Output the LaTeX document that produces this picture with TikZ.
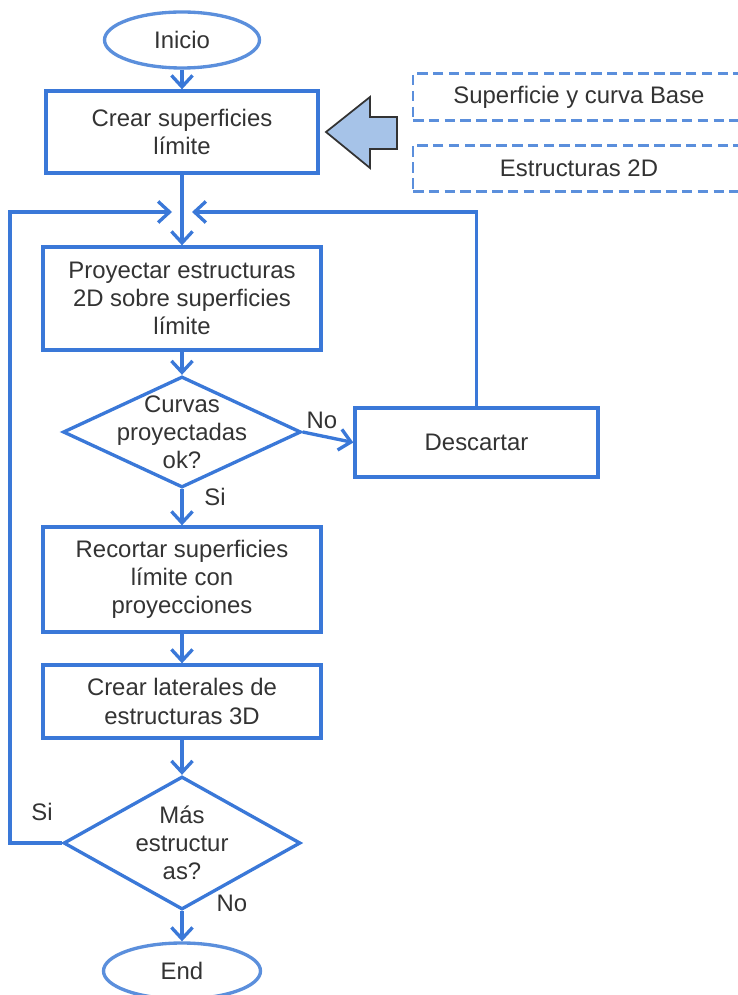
\documentclass[tikz,border=0pt]{standalone}
\usepackage{fontspec}
\setmainfont{Liberation Sans}
\usepackage{tikz}
\usetikzlibrary{arrows.meta,shapes.geometric}
\usepackage{xcolor}
\definecolor{flowblue}{HTML}{3A78D8}
\definecolor{lightblue}{HTML}{5B8FDC}
\definecolor{arrowfill}{HTML}{A6C3E8}
\definecolor{txtgray}{HTML}{333333}

\begin{document}
\begin{tikzpicture}[
    every node/.style = {
      align=center,
      text=txtgray,
      font=\fontsize{13.6}{16}\selectfont
    },
    process/.style = {
      shape=rectangle,
      draw=flowblue,
      line width=1.9pt,
      minimum width=5.56cm
    },
    terminal/.style = {
      shape=ellipse,
      draw=lightblue,
      line width=1.9pt,
      minimum width=3.1cm,
      minimum height=1.12cm,
      inner sep=0pt
    },
    decision/.style = {
      shape=diamond,
      draw=flowblue,
      line width=1.9pt,
      inner sep=0pt
    },
    source/.style = {
      shape=rectangle,
      draw=lightblue,
      line width=1.6pt,
      dash pattern=on 6pt off 3pt,
      minimum width=6.64cm,
      minimum height=0.93cm
    },
    arrow/.style = {
      draw=flowblue,
      line width=1.9pt,
      -{Straight Barb[length=6.5pt,width=12pt]}
    }
  ]

    \useasboundingbox (0,0) rectangle (14.76,-19.9);
    \clip (0,0) rectangle (14.76,-19.9);

    % Start and first step
    \node[terminal] (inicio) at (3.64, -0.80) {Inicio};
    \node[process, minimum width=5.44cm, minimum height=1.64cm] (crear) at (3.64, -2.64) {Crear superficies\\límite};

    % Inputs on the right
    \node[source] (superficie) at (11.58, -1.94) {Superficie y curva Base};
    \node[source] (estructuras) at (11.58, -3.37) {Estructuras 2D};
    \draw[fill=arrowfill, draw=black!80, line width=1pt, line join=miter]
      (6.52,-2.64) -- (7.40,-1.94) -- (7.40,-2.34) -- (7.94,-2.34)
      -- (7.94,-2.98) -- (7.40,-2.98) -- (7.40,-3.36) -- cycle;

    % Loop entry
    \coordinate (join) at (3.64, -4.24);

    % Main column
    \node[process, minimum height=2.06cm] (proyectar) at (3.64, -5.97) {Proyectar estructuras\\2D sobre superficies\\límite};
    \node[decision, minimum width=4.76cm, minimum height=2.22cm,
          label={center:Curvas\\proyectadas\\ok?}] (curvas) at (3.64, -8.64) {};
    \node[process, minimum width=4.86cm, minimum height=1.38cm] (descartar) at (9.53, -8.85) {Descartar};
    \node[process, minimum height=2.10cm] (recortar) at (3.64, -11.59) {Recortar superficies\\límite con\\proyecciones};
    \node[process, minimum height=1.46cm] (laterales) at (3.64, -14.03) {Crear laterales de\\estructuras 3D};
    \node[decision, minimum width=4.74cm, minimum height=2.66cm,
          label={center:Más\\estructur\\as?}] (mas) at (3.64, -16.86) {};
    \node[terminal, minimum width=3.14cm] (fin) at (3.64, -19.42) {End};

    % Branch labels
    \node[inner sep=0pt] (nocurvas) at (6.44, -8.40) {No};
    \node[inner sep=0pt] (sicurvas) at (4.30, -9.94) {Si};
    \node[inner sep=0pt] (simas) at (0.84, -16.24) {Si};
    \node[inner sep=0pt] (nomas) at (4.64, -18.06) {No};

    % Arrows
    \draw[arrow] (inicio) -- (crear);
    \draw[arrow] (crear) -- (proyectar);
    \draw[arrow] (proyectar) -- (curvas);
    \draw[arrow] (curvas.east) -- (descartar.west);
    \draw[arrow, shorten >=0.2cm] (descartar.north) |- (join);
    \draw[arrow] (curvas) -- (recortar);
    \draw[arrow] (recortar) -- (laterales);
    \draw[arrow] (laterales) -- (mas);
    \draw[arrow, shorten >=0.2cm] (mas.west) -- ++(-1.04,0) |- (join);
    \draw[arrow] (mas) -- (fin);

  \end{tikzpicture}
\end{document}
